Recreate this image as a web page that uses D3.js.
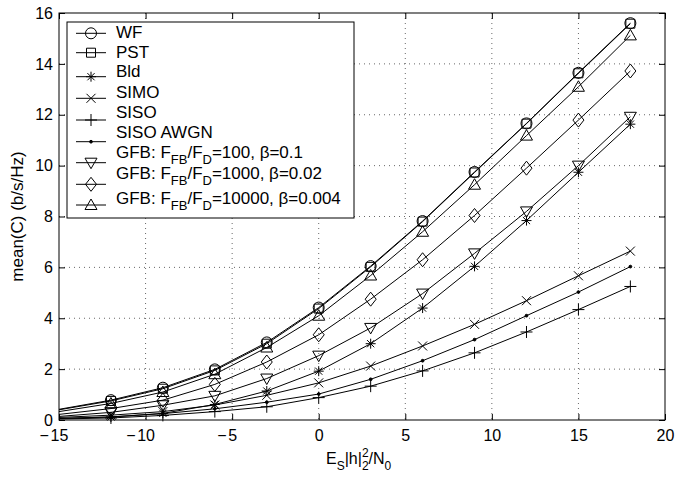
<!DOCTYPE html>
<html><head><meta charset="utf-8">
<script src="https://cdn.jsdelivr.net/npm/d3@7"></script>
<style>body{margin:0;background:#fff}svg{display:block}text{font-family:"Liberation Sans",Arial,sans-serif;fill:#000}</style>
</head><body><svg id="c" width="686" height="481"></svg>
<script>
const snr = [-15, -12, -9, -6, -3, 0, 3, 6, 9, 12, 15, 18];
const wf    = [0.42, 0.78, 1.27, 1.99, 3.05, 4.42, 6.05, 7.82, 9.75, 11.66, 13.65, 15.6];
const pst   = [0.40, 0.75, 1.23, 1.95, 3.00, 4.38, 6.02, 7.80, 9.73, 11.65, 13.63, 15.58];
const bld   = [0.06, 0.12, 0.26, 0.61, 1.14, 1.92, 3.00, 4.40, 6.04, 7.84, 9.74, 11.63];
const simo  = [0.10, 0.19, 0.33, 0.59, 0.97, 1.46, 2.12, 2.91, 3.76, 4.69, 5.67, 6.64];
const siso  = [0.04, 0.08, 0.18, 0.33, 0.52, 0.88, 1.33, 1.93, 2.64, 3.46, 4.34, 5.25];
const awgn  = [0.06, 0.12, 0.25, 0.44, 0.70, 1.02, 1.60, 2.33, 3.16, 4.10, 5.03, 6.03];
const gfb100   = [0.14, 0.30, 0.58, 0.95, 1.63, 2.53, 3.62, 4.97, 6.55, 8.20, 10.0, 11.92];
const gfb1000  = [0.22, 0.45, 0.78, 1.40, 2.28, 3.35, 4.75, 6.30, 8.04, 9.90, 11.79, 13.72];
const gfb10000 = [0.33, 0.65, 1.10, 1.80, 2.85, 4.10, 5.68, 7.40, 9.25, 11.18, 13.10, 15.12];
const xTicks = [-15, -10, -5, 0, 5, 10, 15, 20];
const yTicks = [0, 2, 4, 6, 8, 10, 12, 14, 16];
const seriesNames = ["WF","PST","Bld","SIMO","SISO","SISO AWGN","GFB100","GFB1000","GFB10000"];
const seriesVals = [wf, pst, bld, simo, siso, awgn, gfb100, gfb1000, gfb10000];
const markers = ["circle","square","star","x","plus","dot","tridown","diamond","triup"];

const svg = d3.select("#c");
const L = 59, R = 665, T = 13, B = 420;
const x = d3.scaleLinear().domain([-15, 20]).range([L, R]);
const y = d3.scaleLinear().domain([0, 16]).range([B, T]);

// grid
const g = svg.append("g");
g.selectAll(".gx").data(xTicks.slice(1, -1)).join("line")
  .attr("x1", d => x(d)).attr("x2", d => x(d)).attr("y1", T).attr("y2", B)
  .attr("stroke", "#000").attr("stroke-width", 0.6).attr("stroke-dasharray", "1,4");
g.selectAll(".gy").data(yTicks.slice(1, -1)).join("line")
  .attr("y1", d => y(d)).attr("y2", d => y(d)).attr("x1", L).attr("x2", R)
  .attr("stroke", "#000").attr("stroke-width", 0.6).attr("stroke-dasharray", "1,4");

// axes
const tl = -6;
const ax = d3.axisBottom(x).tickValues(xTicks).tickSize(tl).tickPadding(10).tickFormat(d => Math.abs(d));
const axB = svg.append("g").attr("transform", `translate(0,${B})`).call(ax);
const axT = svg.append("g").attr("transform", `translate(0,${T})`).call(d3.axisTop(x).tickValues(xTicks).tickSize(tl).tickFormat(""));
const ay = d3.axisLeft(y).tickValues(yTicks).tickSize(tl).tickPadding(6);
const axL = svg.append("g").attr("transform", `translate(${L},0)`).call(ay);
const axR = svg.append("g").attr("transform", `translate(${R},0)`).call(d3.axisRight(y).tickValues(yTicks).tickSize(tl).tickFormat(""));
[axB, axT, axL, axR].forEach(a => {
  a.select(".domain").remove();
  a.selectAll("line").attr("stroke", "#000");
  a.selectAll("text").attr("font-size", 16).attr("font-family", "Liberation Sans, Arial, sans-serif").attr("fill", "#000");
});
// negative x tick labels: digits centred on tick, minus sign hanging to the left
axB.selectAll(".tick text").each(function(d) {
  if (d < 0) {
    const t = d3.select(this);
    const w = this.getComputedTextLength();
    t.text(null).attr("text-anchor", "start").attr("x", -w / 2 - 11);
    t.append("tspan").text("\u2212");
    t.append("tspan").attr("x", -w / 2).text(Math.abs(d));
  }
});
svg.append("rect").attr("x", L).attr("y", T).attr("width", R - L).attr("height", B - T)
  .attr("fill", "none").attr("stroke", "#000").attr("stroke-width", 1);

// marker symbol paths
function mpath(type) {
  switch (type) {
    case "circle": return d3.symbol(d3.symbolCircle, 95)();
    case "square": return "M-4.5,-4.5H4.5V4.5H-4.5Z";
    case "star": return "M-5,0H5M0,-5V5M-3.6,-3.6L3.6,3.6M-3.6,3.6L3.6,-3.6";
    case "x": return "M-4.5,-4.5L4.5,4.5M-4.5,4.5L4.5,-4.5";
    case "plus": return "M-6,0H6M0,-6V6";
    case "dot": return d3.symbol(d3.symbolCircle, 6)();
    case "tridown": return "M-6,-4.5H6L0,6Z";
    case "triup": return "M-6,4.5H6L0,-6Z";
    case "diamond": return "M0,-7L5.5,0L0,7L-5.5,0Z";
  }
}
function drawMarker(sel, type, cx, cy) {
  sel.append("path").attr("d", mpath(type)).attr("transform", `translate(${cx},${cy})`)
    .attr("fill", type === "dot" ? "#000" : "none").attr("stroke", "#000").attr("stroke-width", 1);
}

const line = d3.line().x((d, i) => x(snr[i])).y(d => y(d));
const plot = svg.append("g");
seriesVals.forEach((vals, k) => {
  plot.append("path").attr("d", line(vals)).attr("fill", "none").attr("stroke", "#000").attr("stroke-width", 1);
  vals.forEach((v, i) => { if (i > 0) drawMarker(plot, markers[k], x(snr[i]), y(v)); });
});

// legend
const lg = svg.append("g");
lg.append("rect").attr("x", 67).attr("y", 22).attr("width", 287).attr("height", 196)
  .attr("fill", "#fff").attr("stroke", "#000").attr("stroke-width", 1);
const mY = [33.3, 52.7, 76.7, 98.3, 120, 141.7, 162.7, 184.3, 205];
const tY = [37.8, 57.8, 76.8, 97.8, 117.8, 137.8, 157.8, 178.8, 204.3];
const labels = [
  [["WF"]], [["PST"]], [["Bld"]], [["SIMO"]], [["SISO"]], [["SISO AWGN"]],
  [["GFB: F"], ["FB", 1], ["/F"], ["D", 1], ["=100, \u03b2=0.1"]],
  [["GFB: F"], ["FB", 1], ["/F"], ["D", 1], ["=1000, \u03b2=0.02"]],
  [["GFB: F"], ["FB", 1], ["/F"], ["D", 1], ["=10000, \u03b2=0.004"]]
];
markers.forEach((m, k) => {
  lg.append("line").attr("x1", 76).attr("x2", 106).attr("y1", mY[k]).attr("y2", mY[k]).attr("stroke", "#000");
  drawMarker(lg, m, 91, mY[k]);
  const t = lg.append("text").attr("x", 116).attr("y", tY[k]).attr("font-size", 17);
  let sub = false;
  labels[k].forEach(([s, isSub]) => {
    const ts = t.append("tspan").text(s);
    if (isSub && !sub) { ts.attr("dy", 6).attr("font-size", 13); sub = true; }
    else if (isSub) { ts.attr("font-size", 13); }
    else if (sub) { ts.attr("dy", -6); sub = false; }
  });
});

// axis labels
svg.append("text").attr("transform", `translate(23,${(T + B) / 2}) rotate(-90)`)
  .attr("text-anchor", "middle").attr("font-size", 17).text("mean(C) (b/s/Hz)");
const xl = svg.append("text").attr("x", 326).attr("y", 464).attr("font-size", 16);
xl.append("tspan").text("E");
xl.append("tspan").text("S").attr("font-size", 12).attr("dy", 6);
xl.append("tspan").text("|h|").attr("dy", -6);
xl.append("tspan").text("2").attr("font-size", 12).attr("dy", -7);
xl.append("tspan").text("2").attr("font-size", 12).attr("dx", -6.7).attr("dy", 13);
xl.append("tspan").text("/N").attr("dy", -6);
xl.append("tspan").text("0").attr("font-size", 12).attr("dy", 6);
</script></body></html>
